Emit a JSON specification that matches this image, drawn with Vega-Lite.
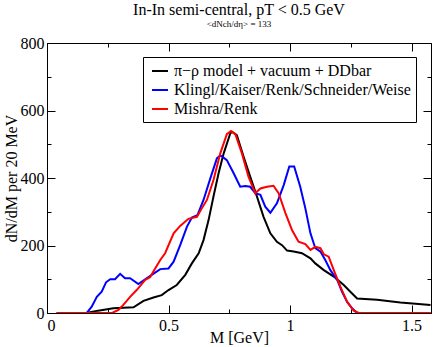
{
  "$schema": "https://vega.github.io/schema/vega-lite/v6.json",
  "width": 384,
  "height": 270,
  "autosize": "none",
  "padding": {"left": 47, "top": 43, "right": 5, "bottom": 34},
  "background": "white",
  "title": {
    "text": "In-In semi-central, pT < 0.5 GeV",
    "subtitle": "<dNch/dη> = 133",
    "font": "Liberation Serif",
    "fontSize": 16,
    "fontWeight": "normal",
    "subtitleFont": "Liberation Serif",
    "subtitleFontSize": 9,
    "subtitlePadding": 2,
    "subtitleColor": "black",
    "anchor": "middle",
    "offset": 6,
    "color": "black"
  },
  "config": {
    "view": {"stroke": "black", "strokeWidth": 1},
    "axis": {
      "grid": false,
      "domainColor": "black",
      "tickColor": "black",
      "tickWidth": 1,
      "labelColor": "black",
      "titleColor": "black",
      "labelFont": "Liberation Serif",
      "titleFont": "Liberation Serif",
      "labelFontSize": 16,
      "titleFontSize": 16,
      "titleFontWeight": "normal"
    }
  },
  "data": {
    "values": [
      {"s": "π−ρ model + vacuum + DDbar", "m": 0.04, "v": 0},
      {"s": "π−ρ model + vacuum + DDbar", "m": 0.16, "v": 0},
      {"s": "π−ρ model + vacuum + DDbar", "m": 0.21, "v": 7},
      {"s": "π−ρ model + vacuum + DDbar", "m": 0.273, "v": 14},
      {"s": "π−ρ model + vacuum + DDbar", "m": 0.356, "v": 17},
      {"s": "π−ρ model + vacuum + DDbar", "m": 0.397, "v": 36},
      {"s": "π−ρ model + vacuum + DDbar", "m": 0.438, "v": 46},
      {"s": "π−ρ model + vacuum + DDbar", "m": 0.472, "v": 53},
      {"s": "π−ρ model + vacuum + DDbar", "m": 0.5, "v": 68},
      {"s": "π−ρ model + vacuum + DDbar", "m": 0.534, "v": 83},
      {"s": "π−ρ model + vacuum + DDbar", "m": 0.569, "v": 113},
      {"s": "π−ρ model + vacuum + DDbar", "m": 0.596, "v": 147},
      {"s": "π−ρ model + vacuum + DDbar", "m": 0.624, "v": 177},
      {"s": "π−ρ model + vacuum + DDbar", "m": 0.644, "v": 216},
      {"s": "π−ρ model + vacuum + DDbar", "m": 0.665, "v": 276},
      {"s": "π−ρ model + vacuum + DDbar", "m": 0.685, "v": 345},
      {"s": "π−ρ model + vacuum + DDbar", "m": 0.706, "v": 414},
      {"s": "π−ρ model + vacuum + DDbar", "m": 0.727, "v": 473},
      {"s": "π−ρ model + vacuum + DDbar", "m": 0.754, "v": 532},
      {"s": "π−ρ model + vacuum + DDbar", "m": 0.761, "v": 537},
      {"s": "π−ρ model + vacuum + DDbar", "m": 0.781, "v": 527},
      {"s": "π−ρ model + vacuum + DDbar", "m": 0.809, "v": 463},
      {"s": "π−ρ model + vacuum + DDbar", "m": 0.836, "v": 404},
      {"s": "π−ρ model + vacuum + DDbar", "m": 0.864, "v": 345},
      {"s": "π−ρ model + vacuum + DDbar", "m": 0.891, "v": 285},
      {"s": "π−ρ model + vacuum + DDbar", "m": 0.919, "v": 236},
      {"s": "π−ρ model + vacuum + DDbar", "m": 0.946, "v": 211},
      {"s": "π−ρ model + vacuum + DDbar", "m": 0.967, "v": 201},
      {"s": "π−ρ model + vacuum + DDbar", "m": 0.988, "v": 185},
      {"s": "π−ρ model + vacuum + DDbar", "m": 1.015, "v": 182},
      {"s": "π−ρ model + vacuum + DDbar", "m": 1.049, "v": 177},
      {"s": "π−ρ model + vacuum + DDbar", "m": 1.084, "v": 162},
      {"s": "π−ρ model + vacuum + DDbar", "m": 1.104, "v": 147},
      {"s": "π−ρ model + vacuum + DDbar", "m": 1.139, "v": 127},
      {"s": "π−ρ model + vacuum + DDbar", "m": 1.18, "v": 108},
      {"s": "π−ρ model + vacuum + DDbar", "m": 1.221, "v": 83},
      {"s": "π−ρ model + vacuum + DDbar", "m": 1.248, "v": 63},
      {"s": "π−ρ model + vacuum + DDbar", "m": 1.276, "v": 43},
      {"s": "π−ρ model + vacuum + DDbar", "m": 1.358, "v": 39},
      {"s": "π−ρ model + vacuum + DDbar", "m": 1.454, "v": 31},
      {"s": "π−ρ model + vacuum + DDbar", "m": 1.578, "v": 24},

      {"s": "Klingl/Kaiser/Renk/Schneider/Weise", "m": 0.04, "v": 0},
      {"s": "Klingl/Kaiser/Renk/Schneider/Weise", "m": 0.163, "v": 0},
      {"s": "Klingl/Kaiser/Renk/Schneider/Weise", "m": 0.184, "v": 19},
      {"s": "Klingl/Kaiser/Renk/Schneider/Weise", "m": 0.205, "v": 48},
      {"s": "Klingl/Kaiser/Renk/Schneider/Weise", "m": 0.225, "v": 63},
      {"s": "Klingl/Kaiser/Renk/Schneider/Weise", "m": 0.243, "v": 91},
      {"s": "Klingl/Kaiser/Renk/Schneider/Weise", "m": 0.26, "v": 100},
      {"s": "Klingl/Kaiser/Renk/Schneider/Weise", "m": 0.28, "v": 100},
      {"s": "Klingl/Kaiser/Renk/Schneider/Weise", "m": 0.301, "v": 116},
      {"s": "Klingl/Kaiser/Renk/Schneider/Weise", "m": 0.321, "v": 103},
      {"s": "Klingl/Kaiser/Renk/Schneider/Weise", "m": 0.342, "v": 103},
      {"s": "Klingl/Kaiser/Renk/Schneider/Weise", "m": 0.376, "v": 86},
      {"s": "Klingl/Kaiser/Renk/Schneider/Weise", "m": 0.404, "v": 100},
      {"s": "Klingl/Kaiser/Renk/Schneider/Weise", "m": 0.431, "v": 113},
      {"s": "Klingl/Kaiser/Renk/Schneider/Weise", "m": 0.466, "v": 130},
      {"s": "Klingl/Kaiser/Renk/Schneider/Weise", "m": 0.5, "v": 132},
      {"s": "Klingl/Kaiser/Renk/Schneider/Weise", "m": 0.521, "v": 152},
      {"s": "Klingl/Kaiser/Renk/Schneider/Weise", "m": 0.548, "v": 201},
      {"s": "Klingl/Kaiser/Renk/Schneider/Weise", "m": 0.576, "v": 256},
      {"s": "Klingl/Kaiser/Renk/Schneider/Weise", "m": 0.596, "v": 283},
      {"s": "Klingl/Kaiser/Renk/Schneider/Weise", "m": 0.619, "v": 290},
      {"s": "Klingl/Kaiser/Renk/Schneider/Weise", "m": 0.644, "v": 335},
      {"s": "Klingl/Kaiser/Renk/Schneider/Weise", "m": 0.672, "v": 399},
      {"s": "Klingl/Kaiser/Renk/Schneider/Weise", "m": 0.699, "v": 458},
      {"s": "Klingl/Kaiser/Renk/Schneider/Weise", "m": 0.712, "v": 466},
      {"s": "Klingl/Kaiser/Renk/Schneider/Weise", "m": 0.72, "v": 464},
      {"s": "Klingl/Kaiser/Renk/Schneider/Weise", "m": 0.74, "v": 453},
      {"s": "Klingl/Kaiser/Renk/Schneider/Weise", "m": 0.768, "v": 414},
      {"s": "Klingl/Kaiser/Renk/Schneider/Weise", "m": 0.795, "v": 374},
      {"s": "Klingl/Kaiser/Renk/Schneider/Weise", "m": 0.816, "v": 376},
      {"s": "Klingl/Kaiser/Renk/Schneider/Weise", "m": 0.836, "v": 374},
      {"s": "Klingl/Kaiser/Renk/Schneider/Weise", "m": 0.857, "v": 355},
      {"s": "Klingl/Kaiser/Renk/Schneider/Weise", "m": 0.878, "v": 350},
      {"s": "Klingl/Kaiser/Renk/Schneider/Weise", "m": 0.898, "v": 315},
      {"s": "Klingl/Kaiser/Renk/Schneider/Weise", "m": 0.919, "v": 297},
      {"s": "Klingl/Kaiser/Renk/Schneider/Weise", "m": 0.946, "v": 325},
      {"s": "Klingl/Kaiser/Renk/Schneider/Weise", "m": 0.974, "v": 379},
      {"s": "Klingl/Kaiser/Renk/Schneider/Weise", "m": 0.997, "v": 434},
      {"s": "Klingl/Kaiser/Renk/Schneider/Weise", "m": 1.017, "v": 434},
      {"s": "Klingl/Kaiser/Renk/Schneider/Weise", "m": 1.042, "v": 374},
      {"s": "Klingl/Kaiser/Renk/Schneider/Weise", "m": 1.063, "v": 310},
      {"s": "Klingl/Kaiser/Renk/Schneider/Weise", "m": 1.084, "v": 236},
      {"s": "Klingl/Kaiser/Renk/Schneider/Weise", "m": 1.104, "v": 192},
      {"s": "Klingl/Kaiser/Renk/Schneider/Weise", "m": 1.125, "v": 182},
      {"s": "Klingl/Kaiser/Renk/Schneider/Weise", "m": 1.145, "v": 157},
      {"s": "Klingl/Kaiser/Renk/Schneider/Weise", "m": 1.166, "v": 127},
      {"s": "Klingl/Kaiser/Renk/Schneider/Weise", "m": 1.194, "v": 98},
      {"s": "Klingl/Kaiser/Renk/Schneider/Weise", "m": 1.214, "v": 63},
      {"s": "Klingl/Kaiser/Renk/Schneider/Weise", "m": 1.235, "v": 33},
      {"s": "Klingl/Kaiser/Renk/Schneider/Weise", "m": 1.255, "v": 14},
      {"s": "Klingl/Kaiser/Renk/Schneider/Weise", "m": 1.276, "v": 0},
      {"s": "Klingl/Kaiser/Renk/Schneider/Weise", "m": 1.578, "v": 0},

      {"s": "Mishra/Renk", "m": 0.04, "v": 0},
      {"s": "Mishra/Renk", "m": 0.268, "v": 0},
      {"s": "Mishra/Renk", "m": 0.294, "v": 9},
      {"s": "Mishra/Renk", "m": 0.314, "v": 24},
      {"s": "Mishra/Renk", "m": 0.342, "v": 48},
      {"s": "Mishra/Renk", "m": 0.369, "v": 68},
      {"s": "Mishra/Renk", "m": 0.404, "v": 98},
      {"s": "Mishra/Renk", "m": 0.424, "v": 106},
      {"s": "Mishra/Renk", "m": 0.445, "v": 132},
      {"s": "Mishra/Renk", "m": 0.466, "v": 157},
      {"s": "Mishra/Renk", "m": 0.486, "v": 177},
      {"s": "Mishra/Renk", "m": 0.521, "v": 236},
      {"s": "Mishra/Renk", "m": 0.548, "v": 258},
      {"s": "Mishra/Renk", "m": 0.582, "v": 279},
      {"s": "Mishra/Renk", "m": 0.617, "v": 285},
      {"s": "Mishra/Renk", "m": 0.637, "v": 310},
      {"s": "Mishra/Renk", "m": 0.658, "v": 335},
      {"s": "Mishra/Renk", "m": 0.685, "v": 394},
      {"s": "Mishra/Renk", "m": 0.713, "v": 473},
      {"s": "Mishra/Renk", "m": 0.74, "v": 530},
      {"s": "Mishra/Renk", "m": 0.757, "v": 539},
      {"s": "Mishra/Renk", "m": 0.775, "v": 530},
      {"s": "Mishra/Renk", "m": 0.802, "v": 473},
      {"s": "Mishra/Renk", "m": 0.829, "v": 404},
      {"s": "Mishra/Renk", "m": 0.857, "v": 355},
      {"s": "Mishra/Renk", "m": 0.878, "v": 369},
      {"s": "Mishra/Renk", "m": 0.905, "v": 374},
      {"s": "Mishra/Renk", "m": 0.932, "v": 377},
      {"s": "Mishra/Renk", "m": 0.953, "v": 355},
      {"s": "Mishra/Renk", "m": 0.981, "v": 296},
      {"s": "Mishra/Renk", "m": 1.008, "v": 246},
      {"s": "Mishra/Renk", "m": 1.035, "v": 211},
      {"s": "Mishra/Renk", "m": 1.063, "v": 204},
      {"s": "Mishra/Renk", "m": 1.084, "v": 187},
      {"s": "Mishra/Renk", "m": 1.104, "v": 196},
      {"s": "Mishra/Renk", "m": 1.125, "v": 192},
      {"s": "Mishra/Renk", "m": 1.139, "v": 174},
      {"s": "Mishra/Renk", "m": 1.159, "v": 167},
      {"s": "Mishra/Renk", "m": 1.18, "v": 127},
      {"s": "Mishra/Renk", "m": 1.207, "v": 78},
      {"s": "Mishra/Renk", "m": 1.235, "v": 33},
      {"s": "Mishra/Renk", "m": 1.262, "v": 7},
      {"s": "Mishra/Renk", "m": 1.283, "v": 0},
      {"s": "Mishra/Renk", "m": 1.578, "v": 0}
    ]
  },
  "resolve": {"axis": {"x": "independent", "y": "independent"}},
  "layer": [
    {
      "mark": {"type": "line", "strokeWidth": 2, "clip": true},
      "encoding": {
        "x": {
          "field": "m", "type": "quantitative",
          "scale": {"domain": [0, 1.58], "nice": false, "zero": false},
          "axis": {"orient": "bottom", "values": [0, 0.5, 1, 1.5], "format": "~g", "tickSize": -8, "labelPadding": 12, "labelFont": "Liberation Serif", "labelFontSize": 16, "title": "M [GeV]", "titleFont": "Liberation Serif", "titleFontSize": 16, "titlePadding": -4}
        },
        "y": {
          "field": "v", "type": "quantitative",
          "scale": {"domain": [0, 800], "nice": false},
          "axis": {"orient": "left", "values": [0, 200, 400, 600, 800], "tickSize": -8, "labelPadding": 11, "labelFont": "Liberation Serif", "labelFontSize": 16, "title": "dN/dM per 20 MeV", "titleFont": "Liberation Serif", "titleFontSize": 16, "titlePadding": 1}
        },
        "color": {
          "field": "s", "type": "nominal",
          "scale": {
            "domain": ["π−ρ model + vacuum + DDbar", "Klingl/Kaiser/Renk/Schneider/Weise", "Mishra/Renk"],
            "range": ["#000000", "#0000ff", "#ff0000"]
          },
          "legend": {
            "title": null,
            "orient": "none",
            "legendX": 96,
            "legendY": 14,
            "strokeColor": "black",
            "fillColor": "white",
            "padding": 5,
            "symbolType": "stroke",
            "symbolStrokeWidth": 2,
            "symbolSize": 256,
            "symbolOffset": 3,
            "labelFont": "Liberation Serif",
            "labelFontSize": 16,
            "labelColor": "black",
            "labelOffset": 5,
            "rowPadding": 2,
            "labelLimit": 400
          }
        }
      }
    },
    {
      "mark": {"type": "point", "opacity": 0},
      "encoding": {
        "x": {"field": "m", "type": "quantitative", "axis": {"orient": "bottom", "values": [0.25, 0.75, 1.25], "tickSize": -4, "labels": false, "domain": false, "title": null}},
        "y": {"field": "v", "type": "quantitative", "axis": {"orient": "left", "values": [100, 300, 500, 700], "tickSize": -4, "labels": false, "domain": false, "title": null}}
      }
    },
    {
      "mark": {"type": "point", "opacity": 0},
      "encoding": {
        "x": {"field": "m", "type": "quantitative", "axis": {"orient": "top", "values": [0, 0.5, 1, 1.5], "tickSize": -8, "labels": false, "domain": false, "title": null}},
        "y": {"field": "v", "type": "quantitative", "axis": {"orient": "right", "values": [0, 200, 400, 600, 800], "tickSize": -8, "labels": false, "domain": false, "title": null}}
      }
    },
    {
      "mark": {"type": "point", "opacity": 0},
      "encoding": {
        "x": {"field": "m", "type": "quantitative", "axis": {"orient": "top", "values": [0.25, 0.75, 1.25], "tickSize": -4, "labels": false, "domain": false, "title": null}},
        "y": {"field": "v", "type": "quantitative", "axis": {"orient": "right", "values": [100, 300, 500, 700], "tickSize": -4, "labels": false, "domain": false, "title": null}}
      }
    }
  ]
}
